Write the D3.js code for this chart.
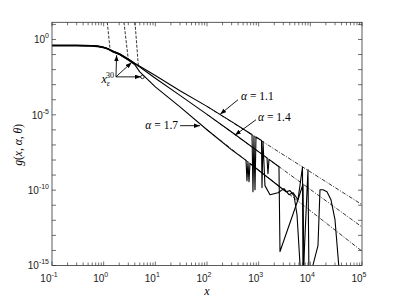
<!DOCTYPE html>
<html>
<head>
<meta charset="utf-8">
<script src="https://cdn.jsdelivr.net/npm/d3@7"></script>
<style>
  body { margin: 0; background: #fff; }
  text { fill: #000; }
</style>
</head>
<body>
<div id="chart"></div>
<script>
// shared flat part of g(x) for the three alphas
var xHead = [0.1, 0.3, 0.6, 0.75, 0.9, 1.05, 1.2];
var yHead = [0.398, 0.398, 0.380, 0.355, 0.324, 0.282, 0.240];

// alpha = 1.1 (numerical result)
var x11 = [1.5, 2, 3, 4, 5, 10, 30, 100, 300, 700, 743, 776, 811, 849, 887, 1135, 1159, 1213,
           1324, 1656, 2366, 3090, 3864, 4616, 5768, 7047, 7211, 9000, 9420,
           14060, 15380, 17580, 21000, 25100, 30000, 37500];
var y11 = [0.170, 0.1175, 0.0501, 0.0263, 0.0166, 4.07e-3, 3.98e-4, 3.63e-5, 3.55e-6, 5.6e-7,
           4.9e-7, 7.9e-11, 4.1e-7, 1.07e-10, 3.4e-7, 2.0e-7, 1.48e-10, 1.74e-7,
           2.0e-10, 5.0e-11, 6.8e-11, 1.26e-10, 5.0e-11, 6.8e-11, 2.3e-11, 3.4e-9, 1e-16, 2.3e-9, 1e-16,
           2.1e-14, 1.07e-10, 1.07e-10, 7.9e-11, 2.3e-11, 1.1e-12, 1e-16];

// alpha = 1.4
var x14 = [1.5, 2, 3, 4, 5, 10, 30, 100, 300, 1449, 1514, 1585, 2472, 2588, 5768, 7211, 7534];
var y14 = [0.162, 0.1096, 0.0468, 0.0240, 0.0148, 2.69e-3, 1.95e-4, 1.07e-5, 7.2e-7,
           1.38e-8, 1.23e-9, 1.1e-8, 3.6e-9, 8.5e-15, 2.3e-11, 2.5e-10, 1e-16];

// alpha = 1.7
var x17 = [1.5, 2, 3, 4, 5, 10, 30, 100, 300, 569, 594, 621, 650, 679,
           3381, 4036, 4830, 5520, 6590];
var y17 = [0.155, 0.1023, 0.0427, 0.0214, 7.1e-3, 7.1e-4, 3.4e-5, 1.02e-6, 4.7e-8,
           9.5e-9, 4.3e-10, 7.6e-9, 3.6e-10, 5.9e-9,
           7.9e-11, 9.3e-11, 4.4e-11, 2.4e-12, 1e-16];

// large-x asymptotes (dash-dot)
var xAsym = [100, 1e5];
var yAsym11 = [3.63e-5, 1.1e-11];
var yAsym14 = [1.07e-5, 3.6e-13];
var yAsym17 = [1.02e-6, 8.9e-15];

// small-x expansions (dashed)
var xSmall1 = [1.175, 1.33], ySmall1 = [13.8, 0.22];
var xSmall2 = [2.47, 3.0],   ySmall2 = [13.8, 0.045];
var xSmall3 = [4.04, 4.68],  ySmall3 = [13.8, 0.02];

// x_eps^30 arrows
var epsBase = [1.73, 3.3e-3];
var epsTipX = [1.78, 3.48, 5.27];
var epsTipY = [0.09, 0.03, 3.3e-3];

// tick labels
var xMajor = [0.1, 1, 10, 100, 1000, 10000, 100000];
var xMajorExp = ["-1", "0", "1", "2", "3", "4", "5"];
var yMajor = [1e-15, 1e-10, 1e-5, 1];
var yMajorExp = ["-15", "-10", "-5", "0"];

var margin = {top: 22.3, right: 37, bottom: 33.5, left: 52},
    width = 399 - margin.left - margin.right,
    height = 299 - margin.top - margin.bottom;

var svg = d3.select("#chart")
  .append("svg")
    .attr("width", 399)
    .attr("height", 299)
  .append("g")
    .attr("transform", "translate(" + margin.left + "," + margin.top + ")");

var x = d3.scaleLog().domain([0.1, 1e5]).range([0, width]);
var y = d3.scaleLog().domain([1e-15, Math.pow(10, 1.14)]).range([height, 0]);

var defs = svg.append("defs");
defs.append("clipPath").attr("id", "clip")
  .append("rect").attr("width", width).attr("height", height);

defs.append("marker")
    .attr("id", "head")
    .attr("viewBox", "0 0 8 6")
    .attr("refX", 8).attr("refY", 3)
    .attr("markerWidth", 6).attr("markerHeight", 4.5)
    .attr("markerUnits", "userSpaceOnUse")
    .attr("orient", "auto")
  .append("path")
    .attr("d", "M0,0 L8,3 L0,6 Z")
    .attr("fill", "#000");

var line = d3.line()
  .x(function(d) { return x(d[0]); })
  .y(function(d) { return y(d[1]); });

var plot = svg.append("g").attr("clip-path", "url(#clip)");

// asymptotes, dash-dot
[yAsym11, yAsym14, yAsym17].forEach(function(ys) {
  plot.append("path")
    .datum(d3.zip(xAsym, ys))
    .attr("fill", "none")
    .attr("stroke", "#000")
    .attr("stroke-width", 0.8)
    .attr("stroke-dasharray", "4,1.5,1,1.5")
    .attr("d", line);
});

// small-x expansions, dashed
[[xSmall1, ySmall1], [xSmall2, ySmall2], [xSmall3, ySmall3]].forEach(function(s) {
  plot.append("path")
    .datum(d3.zip(s[0], s[1]))
    .attr("fill", "none")
    .attr("stroke", "#000")
    .attr("stroke-width", 0.8)
    .attr("stroke-dasharray", "3,1.5")
    .attr("d", line);
});

// solid curves
[[x11, y11], [x14, y14], [x17, y17]].forEach(function(s) {
  var pts = d3.zip(xHead.concat(s[0]), yHead.concat(s[1]));
  plot.append("path")
    .datum(pts)
    .attr("fill", "none")
    .attr("stroke", "#000")
    .attr("stroke-width", 1.1)
    .attr("stroke-linejoin", "round")
    .attr("d", line);
});
// heavier overlap where the curves coincide
plot.append("path")
  .datum(d3.zip(xHead.concat(x14.slice(0, 4)), yHead.concat(y14.slice(0, 4))))
  .attr("fill", "none")
  .attr("stroke", "#000")
  .attr("stroke-width", 1.8)
  .attr("d", line);

// x_eps arrows
epsTipX.forEach(function(tx, i) {
  svg.append("line")
    .attr("x1", x(epsBase[0])).attr("y1", y(epsBase[1]))
    .attr("x2", x(tx)).attr("y2", y(epsTipY[i]))
    .attr("stroke", "#000").attr("stroke-width", 0.9)
    .attr("marker-end", "url(#head)");
});
svg.append("circle")
  .attr("cx", x(epsTipX[2]) + 1.5).attr("cy", y(epsTipY[2]))
  .attr("r", 1.8).attr("fill", "none").attr("stroke", "#000").attr("stroke-width", 0.8);

var eps = svg.append("text")
  .attr("x", x(epsBase[0]) - 2).attr("y", y(epsBase[1]) + 6)
  .attr("text-anchor", "end")
  .attr("fill", "#000")
  .style("font-family", "Liberation Serif")
  .style("font-size", "12px");
eps.append("tspan").style("font-style", "italic").text("x");
eps.append("tspan").attr("dy", 3).style("font-size", "8px").style("font-style", "italic").text("ε");
eps.append("tspan").attr("dx", -4).attr("dy", -8).style("font-size", "8px").text("30");

// alpha labels with arrows
function alphaLabel(txt, tx, ty, anchor, ax1, ay1, ax2, ay2) {
  var t = svg.append("text")
    .attr("x", x(tx)).attr("y", y(ty))
    .attr("text-anchor", anchor)
    .style("font-family", "Liberation Serif")
    .style("font-size", "11.5px");
  t.append("tspan").style("font-style", "italic").text("α");
  t.append("tspan").text(" = " + txt);
  svg.append("line")
    .attr("x1", x(ax1)).attr("y1", y(ay1))
    .attr("x2", x(ax2)).attr("y2", y(ay2))
    .attr("stroke", "#000").attr("stroke-width", 0.9)
    .attr("marker-end", "url(#head)");
}
alphaLabel("1.1", 455, 1e-4, "start", 398, 1e-4, 180, 1.1e-5);
alphaLabel("1.4", 970, 4e-6, "start", 887, 4.7e-6, 348, 4.5e-7);
alphaLabel("1.7", 27.5, 1.2e-6, "end", 30, 1.9e-6, 73, 1.9e-6);

// axes box
svg.append("rect")
  .attr("width", width).attr("height", height)
  .attr("fill", "none").attr("stroke", "#333").attr("stroke-width", 0.8);

var axisColor = "#333";
// x ticks (top and bottom, inward)
x.ticks().forEach(function(t) {
  var len = xMajor.indexOf(t) >= 0 ? 4 : 3;
  svg.append("line").attr("x1", x(t)).attr("x2", x(t))
    .attr("y1", height).attr("y2", height - len)
    .attr("stroke", axisColor).attr("stroke-width", 0.7);
  svg.append("line").attr("x1", x(t)).attr("x2", x(t))
    .attr("y1", 0).attr("y2", len)
    .attr("stroke", axisColor).attr("stroke-width", 0.7);
});
// y ticks each decade
d3.range(-15, 2).map(function(k) { return Math.pow(10, k); }).forEach(function(t) {
  if (t > y.domain()[1]) return;
  svg.append("line").attr("x1", 0).attr("x2", 4)
    .attr("y1", y(t)).attr("y2", y(t))
    .attr("stroke", axisColor).attr("stroke-width", 0.7);
  svg.append("line").attr("x1", width).attr("x2", width - 4)
    .attr("y1", y(t)).attr("y2", y(t))
    .attr("stroke", axisColor).attr("stroke-width", 0.7);
});

// tick labels
xMajor.forEach(function(t, i) {
  var lab = svg.append("text")
    .attr("x", x(t) - 3).attr("y", height + 17)
    .attr("text-anchor", "middle")
    .style("font-family", "Liberation Sans")
    .style("font-size", "10px")
    .style("fill", "#222");
  lab.append("tspan").text("10");
  lab.append("tspan").attr("dy", -5).style("font-size", "7px").text(xMajorExp[i]);
});
yMajor.forEach(function(t, i) {
  var lab = svg.append("text")
    .attr("x", -3).attr("y", y(t) + 4)
    .attr("text-anchor", "end")
    .style("font-family", "Liberation Sans")
    .style("font-size", "10px")
    .style("fill", "#222");
  lab.append("tspan").text("10");
  lab.append("tspan").attr("dy", -5).style("font-size", "7px").text(yMajorExp[i]);
});

// axis titles
svg.append("text")
  .attr("x", width / 2).attr("y", height + 30)
  .attr("text-anchor", "middle")
  .style("font-family", "Liberation Serif")
  .style("font-style", "italic")
  .style("font-size", "12px")
  .text("x");

var yl = svg.append("text")
  .attr("transform", "translate(" + (-30) + "," + (height / 2 + 1) + ") rotate(-90)")
  .attr("text-anchor", "middle")
  .style("font-family", "Liberation Serif")
  .style("font-size", "11.5px");
yl.append("tspan").style("font-style", "italic").text("g");
yl.append("tspan").text("(");
yl.append("tspan").style("font-style", "italic").text("x");
yl.append("tspan").text(", ");
yl.append("tspan").style("font-style", "italic").text("α");
yl.append("tspan").text(", ");
yl.append("tspan").style("font-style", "italic").text("θ");
yl.append("tspan").text(")");
</script>
</body>
</html>
